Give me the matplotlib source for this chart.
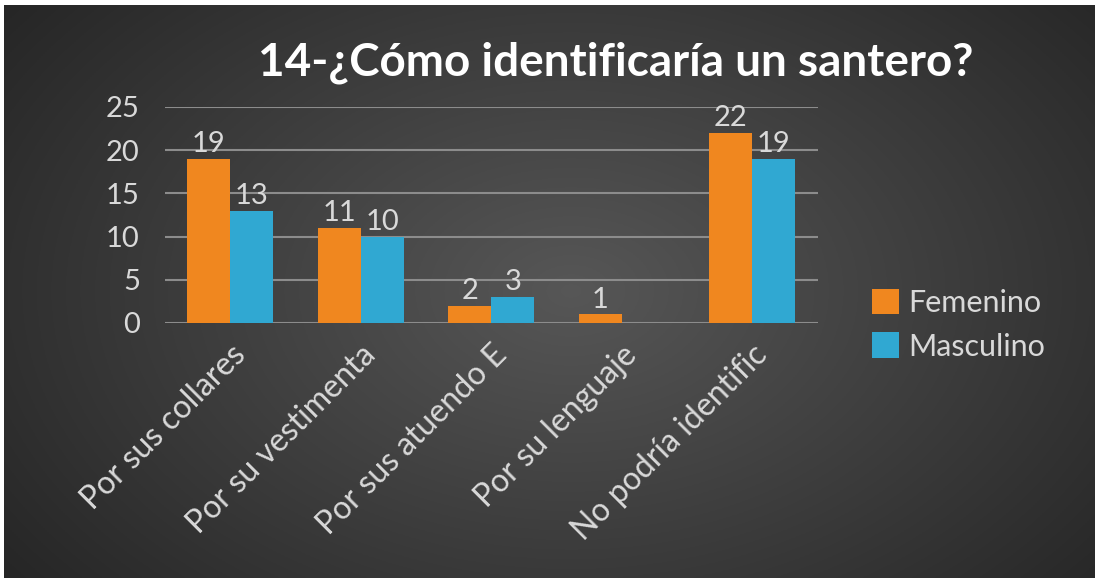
import matplotlib
matplotlib.use("Agg")
import matplotlib.pyplot as plt
from matplotlib.patches import Patch
import numpy as np

plt.rcParams['font.family'] = ['Lato', 'DejaVu Sans']

# data
categories = ["Por sus collares", "Por su vestimenta", "Por sus atuendo E",
              "Por su lenguaje", "No podría identific"]
femenino = [19, 11, 2, 1, 22]
masculino = [13, 10, 3, 0, 19]
series_names = ["Femenino", "Masculino"]
title = "14-¿Cómo identificaría un santero?"

orange = '#f0871f'
cyan = '#30a8d2'
text_col = '#d9d9d9'

fig = plt.figure(figsize=(10.99, 5.83), dpi=100)
fig.patch.set_facecolor('white')

# background with radial gradient
bg = fig.add_axes([0.004, 0.008, 0.992, 0.984])
yy, xx = np.mgrid[0:1:300j, 0:1:560j]
r = np.sqrt(((xx - 0.52) / 0.75) ** 2 + ((yy - 0.5) / 0.95) ** 2)
shade = np.clip(0.34 - 0.22 * r, 0.14, 0.34)
bg.imshow(np.dstack([shade, shade, shade]), aspect='auto', extent=[0, 1, 0, 1])
bg.set_axis_off()

ax = fig.add_axes([0.150, 0.446, 0.594, 0.3705])
ax.set_facecolor('none')

x = np.arange(len(categories))
w = 0.33
b1 = ax.bar(x - w / 2, femenino, w, color=orange, zorder=3)
b2 = ax.bar(x + w / 2, masculino, w, color=cyan, zorder=3)

for bars, vals in ((b1, femenino), (b2, masculino)):
    for rect, v in zip(bars, vals):
        if v == 0:
            continue
        ax.text(rect.get_x() + rect.get_width() / 2, v + 0.2, str(v),
                ha='center', va='bottom', color=text_col, fontsize=21, zorder=4)

ax.set_xlim(-0.5, len(categories) - 0.5)
ax.set_ylim(0, 25)
ax.set_yticks(range(0, 26, 5))
ax.yaxis.grid(True, color='#8c8c8c', linewidth=1.5, zorder=0)
for s in ax.spines.values():
    s.set_visible(False)
ax.tick_params(axis='both', length=0, colors=text_col)
ax.tick_params(axis='y', pad=18, labelsize=21)
ax.set_xticks(x)
ax.set_xticklabels(categories, rotation=45, ha='right', va='top',
                   rotation_mode='anchor', fontsize=23, color=text_col)
ax.tick_params(axis='x', pad=12)

fig.text(0.56, 0.893, title, ha='center', va='center', color='white',
         fontsize=33, fontweight='bold')

handles = [Patch(facecolor=orange), Patch(facecolor=cyan)]
leg = fig.legend(handles, series_names, loc='center left',
                 bbox_to_anchor=(0.768, 0.443), frameon=False, fontsize=22,
                 labelcolor=text_col, handlelength=0.9, handleheight=0.9,
                 handletextpad=0.3, labelspacing=0.5)

fig.savefig('out.png', dpi=100, facecolor=fig.get_facecolor())
